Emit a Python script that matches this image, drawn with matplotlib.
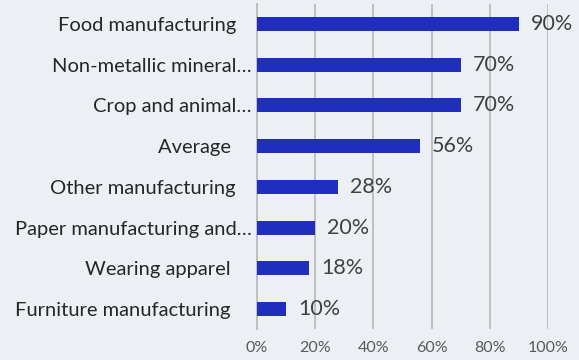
import matplotlib
matplotlib.use("Agg")
import matplotlib.pyplot as plt
from matplotlib.ticker import FixedLocator

categories = ["Food manufacturing   ", "Non-metallic mineral…", "Crop and animal…", "Average    ",
              "Other manufacturing   ", "Paper manufacturing and…", "Wearing apparel    ",
              "Furniture manufacturing    "]
values = [90, 70, 70, 56, 28, 20, 18, 10]
value_labels = ["90%", "70%", "70%", "56%", "28%", "20%", "18%", "10%"]
xticks = [0, 20, 40, 60, 80, 100]
xtick_labels = ["0%", "20%", "40%", "60%", "80%", "100%"]

bg = "#ECF0F5"
bar_color = "#1F2EBF"
font = ["Lato", "DejaVu Sans"]

fig = plt.figure(figsize=(5.79, 3.6), dpi=100, facecolor=bg)
ax = fig.add_axes([0.4439, 0.085, 0.5026, 0.905], facecolor=bg)

n = len(categories)
ypos = list(range(n))
ax.barh(ypos, values, height=0.34, color=bar_color, zorder=3)
ax.set_ylim(n - 0.5, -0.5)
ax.set_xlim(0, 100)

ax.xaxis.set_major_locator(FixedLocator(xticks))
ax.set_xticklabels(xtick_labels, fontsize=11.5, color="#595959", family=font)
ax.set_yticks(ypos)
ax.set_yticklabels(categories, fontsize=14.5, color="#262626", family=font)
ax.tick_params(axis="both", length=0)
ax.tick_params(axis="x", pad=8)
ax.tick_params(axis="y", pad=4)

ax.grid(axis="x", color="#BFBFBF", linewidth=1.4, zorder=0)
for s in ["top", "right", "bottom"]:
    ax.spines[s].set_visible(False)
ax.spines["left"].set_color("#BFBFBF")
ax.spines["left"].set_linewidth(1.4)

for y, v, lab in zip(ypos, values, value_labels):
    ax.annotate(lab, (v, y), xytext=(12, 0), textcoords="offset pixels",
                va="center", ha="left", fontsize=15.5, color="#404040", family=font)

fig.savefig("out.png", dpi=100, facecolor=bg)
